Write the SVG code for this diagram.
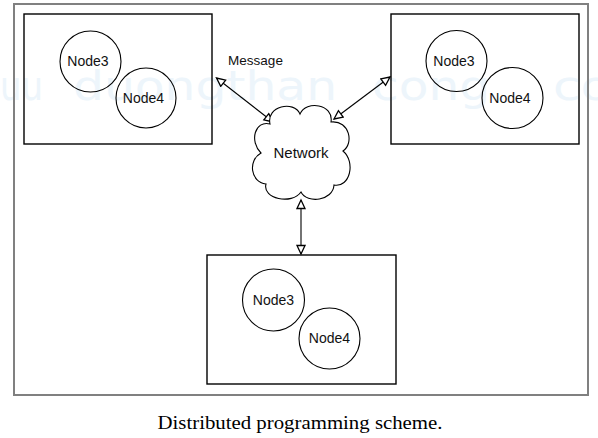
<svg xmlns="http://www.w3.org/2000/svg" width="598" height="438" viewBox="0 0 598 438">
  <defs>
    <marker id="arr" markerUnits="userSpaceOnUse" markerWidth="12" markerHeight="12" viewBox="0 0 12 12" refX="10" refY="5" orient="auto-start-reverse">
      <path d="M1.5,1 L10,5 L1.5,9 Z" fill="#fff" stroke="#000" stroke-width="1.3"/>
    </marker>
  </defs>
  <style>
    .box { fill: none; stroke: #000; stroke-width: 1.4; }
    .circ { fill: none; stroke: #000; stroke-width: 1.1; }
    .lbl { font-family: "Liberation Sans", Arial, sans-serif; font-size: 14px; fill: #111; text-anchor: middle; }
    .conn { stroke: #000; stroke-width: 1.1; fill: none; marker-start: url(#arr); marker-end: url(#arr); }
    .wm { font-family: "DejaVu Sans", sans-serif; font-size: 40px; fill: #edf5fb; }
  </style>
  <rect width="598" height="438" fill="#fff"/>

  <g id="watermark">
    <text class="wm" x="0" y="100" textLength="43" lengthAdjust="spacingAndGlyphs">uu</text>
    <text class="wm" x="73" y="100" textLength="264" lengthAdjust="spacingAndGlyphs">duongthan</text>
    <text class="wm" x="372" y="100" textLength="118" lengthAdjust="spacingAndGlyphs">cong</text>
    <text class="wm" x="553" y="100" textLength="58" lengthAdjust="spacingAndGlyphs">co</text>
  </g>

  <rect id="frame" x="14" y="4" width="574" height="391" fill="none" stroke="#808080" stroke-width="2"/>

  <g id="connectors">
    <line class="conn" x1="216.5" y1="78" x2="273" y2="122"/>
    <line class="conn" x1="390" y1="77" x2="334" y2="119"/>
    <line class="conn" x1="301" y1="200" x2="301" y2="254"/>
    <text class="lbl" x="255.5" y="65" style="font-size:13.5px">Message</text>
  </g>

  <g id="boxLeft">
    <rect class="box" x="24" y="14" width="188" height="130"/>
    <g id="boxLeft-node3">
      <circle class="circ" cx="90.5" cy="61.5" r="30.5"/>
      <text class="lbl" x="88" y="66">Node3</text>
    </g>
    <g id="boxLeft-node4">
      <circle class="circ" cx="146" cy="98" r="30"/>
      <text class="lbl" x="143.5" y="103">Node4</text>
    </g>
  </g>

  <g id="boxRight">
    <rect class="box" x="391" y="14" width="188" height="130"/>
    <g id="boxRight-node3">
      <circle class="circ" cx="456.5" cy="61" r="30.5"/>
      <text class="lbl" x="454" y="66">Node3</text>
    </g>
    <g id="boxRight-node4">
      <circle class="circ" cx="512.5" cy="98" r="30.5"/>
      <text class="lbl" x="510" y="103">Node4</text>
    </g>
  </g>

  <g id="boxBottom">
    <rect class="box" x="207" y="255" width="189" height="129"/>
    <g id="boxBottom-node3">
      <circle class="circ" cx="273.5" cy="300" r="31"/>
      <text class="lbl" x="273.5" y="305">Node3</text>
    </g>
    <g id="boxBottom-node4">
      <circle class="circ" cx="329.5" cy="338.5" r="30.5"/>
      <text class="lbl" x="329.5" y="343">Node4</text>
    </g>
  </g>

  <g id="network">
    <path d="M270,124 C266,106 294,100 300,114 C306,100 334,104 331,122 C350,120 354,144 343,151 C356,162 350,188 334,185 C333,201 307,204 301,192 C292,205 262,199 266,184 C250,182 248,160 261,153 C249,141 255,120 270,124 Z" fill="#fff" stroke="#000" stroke-width="1.1"/>
    <text class="lbl" x="301" y="158" style="font-size:15px">Network</text>
  </g>

  <text id="caption" x="300" y="429" text-anchor="middle" font-family="'Liberation Serif', 'Times New Roman', serif" font-size="19" fill="#000" textLength="285" lengthAdjust="spacingAndGlyphs">Distributed programming scheme.</text>
</svg>
